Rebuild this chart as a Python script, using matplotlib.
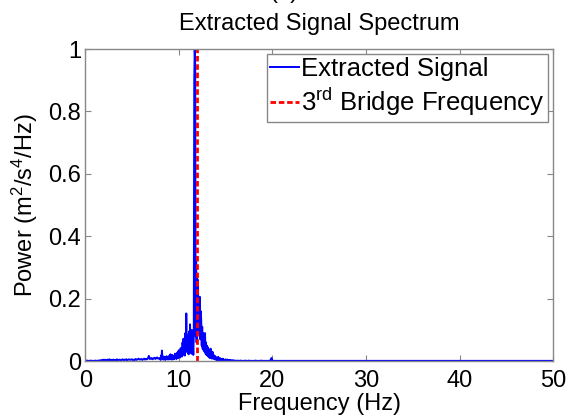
import numpy as np
import matplotlib
matplotlib.use('Agg')
import matplotlib.pyplot as plt

plt.rcParams['font.family'] = ['Liberation Sans', 'DejaVu Sans']
plt.rcParams['mathtext.fontset'] = 'custom'
plt.rcParams['mathtext.rm'] = 'Liberation Sans'
plt.rcParams['mathtext.it'] = 'Liberation Sans'

# spectrum in three pieces
# 0 .. 7.9 Hz, 0.1 Hz steps
power_low = [
    0.001, 0.001, 0.002, 0.001, 0.001, 0.001, 0.002, 0.001, 0.001, 0.001,
    0.001, 0.002, 0.001, 0.001, 0.002, 0.001, 0.003, 0.002, 0.004, 0.002,
    0.005, 0.003, 0.004, 0.002, 0.005, 0.003, 0.006, 0.003, 0.004, 0.002,
    0.005, 0.003, 0.004, 0.002, 0.006, 0.003, 0.004, 0.005, 0.002, 0.004,
    0.006, 0.003, 0.005, 0.004, 0.006, 0.003, 0.005, 0.006, 0.004, 0.005,
    0.006, 0.003, 0.005, 0.004, 0.007, 0.004, 0.006, 0.008, 0.005, 0.006,
    0.007, 0.004, 0.006, 0.008, 0.005, 0.007, 0.006, 0.009, 0.017, 0.007,
    0.008, 0.010, 0.006, 0.009, 0.011, 0.007, 0.010, 0.012, 0.008, 0.009,
]
# 8 .. 15.95 Hz, 0.05 Hz steps
power_mid = [
    0.010, 0.004, 0.018, 0.006, 0.034, 0.008, 0.012, 0.005, 0.015, 0.007,
    0.011, 0.004, 0.013, 0.006, 0.016, 0.007, 0.010, 0.005, 0.014, 0.008,
    0.018, 0.006, 0.022, 0.009, 0.015, 0.005, 0.020, 0.010, 0.014, 0.006,
    0.018, 0.008, 0.024, 0.010, 0.017, 0.007, 0.026, 0.012, 0.030, 0.010,
    0.035, 0.014, 0.028, 0.012, 0.042, 0.016, 0.038, 0.015, 0.060, 0.020,
    0.072, 0.025, 0.055, 0.018, 0.090, 0.030, 0.153, 0.040, 0.085, 0.028,
    0.065, 0.022, 0.095, 0.030, 0.118, 0.035, 0.070, 0.024, 0.100, 0.030,
    0.060, 0.020, 0.085, 0.900, 1.000, 0.950, 0.080, 0.330, 0.060, 0.280,
    0.120, 0.260, 0.090, 0.200, 0.150, 0.206, 0.070, 0.160, 0.125, 0.050,
    0.110, 0.040, 0.090, 0.035, 0.065, 0.030, 0.090, 0.025, 0.060, 0.020,
    0.050, 0.018, 0.045, 0.015, 0.038, 0.012, 0.030, 0.010, 0.040, 0.012,
    0.025, 0.008, 0.030, 0.010, 0.020, 0.007, 0.018, 0.006, 0.015, 0.005,
    0.012, 0.004, 0.010, 0.004, 0.014, 0.005, 0.008, 0.003, 0.010, 0.003,
    0.007, 0.003, 0.006, 0.002, 0.008, 0.002, 0.005, 0.002, 0.004, 0.002,
    0.006, 0.002, 0.004, 0.002, 0.005, 0.001, 0.003, 0.001, 0.004, 0.001,
    0.003, 0.001, 0.002, 0.001, 0.003, 0.001, 0.002, 0.001, 0.002, 0.001,
]
# 16 .. 19.9 Hz, 0.1 Hz steps
power_tail = [
    0.002, 0.001, 0.001, 0.002, 0.001, 0.001, 0.002, 0.001, 0.001, 0.001,
    0.001, 0.002, 0.001, 0.001, 0.001, 0.002, 0.001, 0.001, 0.001, 0.001,
    0.001, 0.001, 0.002, 0.001, 0.001, 0.001, 0.001, 0.001, 0.002, 0.001,
    0.001, 0.001, 0.001, 0.001, 0.001, 0.001, 0.001, 0.002, 0.001, 0.010,
]
freq_high = [20.0, 20.1, 25.0, 30.0, 35.0, 40.0, 45.0, 50.0]
power_high = [0.001, 0.001, 0.001, 0.001, 0.001, 0.001, 0.001, 0.001]

bridge_freq = 11.93

freq = (list(np.arange(len(power_low)) * 0.1)
        + list(8.0 + np.arange(len(power_mid)) * 0.05)
        + list(16.0 + np.arange(len(power_tail)) * 0.1)
        + freq_high)
power = power_low + power_mid + power_tail + power_high

fs = 17
fig = plt.figure(figsize=(5.68, 4.19), dpi=100)
ax = fig.add_axes([0.150, 0.138, 0.824, 0.745])

ax.plot(freq, power, color='b', lw=1.4, label='Extracted Signal')
ax.plot([bridge_freq, bridge_freq], [0, 1], color='r', ls=(0, (2, 1)),
        lw=2.0, label=r'3$^{\rm rd}$ Bridge Frequency')

ax.set_xlim(0, 50)
ax.set_ylim(0, 1)
ax.set_xticks([0, 10, 20, 30, 40, 50])
ax.set_yticks([0, 0.2, 0.4, 0.6, 0.8, 1])
ax.set_yticklabels(['0', '0.2', '0.4', '0.6', '0.8', '1'])
ax.tick_params(direction='in', top=True, right=True, labelsize=fs,
               length=4, color='#888888')
ax.tick_params(axis='x', pad=6)
ax.tick_params(axis='y', pad=3)
for s in ax.spines.values():
    s.set_color('#888888')
    s.set_linewidth(1.0)

ax.set_xlabel('Frequency (Hz)', fontsize=fs, labelpad=1)
ax.set_ylabel(r'Power (m$^2$/s$^4$/Hz)', fontsize=fs, labelpad=6)
ax.set_title('Extracted Signal Spectrum', fontsize=fs, pad=14)
# panel tag sits mostly above the top edge
fig.text(0.5, 1.018, '(a)', fontsize=fs, ha='center', va='center')

leg = ax.legend(loc='upper right', fontsize=18.5, handlelength=1.1,
                handletextpad=0.1, borderpad=0.12, labelspacing=0.2,
                borderaxespad=0.2, fancybox=False, framealpha=1)
leg.get_frame().set_edgecolor('#888888')
leg.get_frame().set_linewidth(1.0)

fig.savefig('out.png', dpi=100)
